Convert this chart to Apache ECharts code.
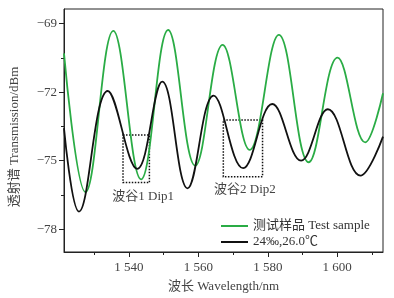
<!DOCTYPE html>
<html>
<head>
<meta charset="utf-8">
<script src="https://cdn.jsdelivr.net/npm/echarts@6/dist/echarts.min.js"></script>
<style>
  html, body { margin: 0; padding: 0; background: #fff; }
  #chart { width: 394px; height: 298px; }
</style>
</head>
<body>
<div id="chart"></div>
<script>
// wavelength (nm) / transmission (dBm)
var sampleWl = [1521.3, 1527.5, 1535.5, 1543.5, 1551.3, 1559.1, 1567.0, 1574.8, 1583.2, 1591.8, 1600.1, 1608.1, 1613.2]
var sampleDb = [-70.3, -76.38, -69.32, -75.82, -69.28, -75.22, -69.93, -74.53, -69.49, -75.07, -70.49, -74.2, -72.05]

var refWl = [1521.3, 1525.6, 1533.9, 1542.4, 1549.6, 1556.9, 1564.4, 1572.9, 1581.3, 1589.6, 1597.3, 1606.7, 1613.2]
var refDb = [-73.58, -77.23, -71.95, -75.36, -71.54, -76.21, -72.15, -75.33, -72.52, -75.0, -72.75, -75.66, -73.95]

var xTicks = [1540, 1560, 1580, 1600]
var xMinorTicks = [1530, 1550, 1570, 1590, 1610]
var yTicks = [-69, -72, -75, -78]
var yMinorTicks = [-70.5, -73.5, -76.5]

// dotted boxes round the two dips: [x0, y0, x1, y1]
var dip1Box = [1538.3, -73.88, 1545.9, -75.96]
var dip2Box = [1567.2, -73.22, 1578.5, -75.70]

var serif = "'Liberation Serif', 'Noto Sans CJK SC', serif"

function pairs(xs, ys) {
  return xs.map(function (x, i) { return [x, ys[i]] })
}

var chart = echarts.init(document.getElementById('chart'))

chart.setOption({
  backgroundColor: '#fff',
  animation: false,
  grid: {
    left: 57, top: 9, right: 11, bottom: 46,
    show: true,
    borderColor: '#222',
    borderWidth: 1
  },
  legend: {
    orient: 'vertical',
    left: 216,
    top: 214,
    icon: 'rect',
    itemWidth: 27,
    itemHeight: 2,
    itemGap: 2,
    textStyle: { fontFamily: serif, fontSize: 13, color: '#333', lineHeight: 14 },
    data: ['测试样品 Test sample', '24‰,26.0℃']
  },
  xAxis: [
    {
      type: 'value',
      min: 1521.3,
      max: 1613.2,
      name: '波长 Wavelength/nm',
      nameLocation: 'middle',
      nameGap: 28,
      nameTextStyle: { fontFamily: serif, fontSize: 13, color: '#444' },
      axisLine: { lineStyle: { color: '#222', width: 1 } },
      splitLine: { show: false },
      axisTick: { customValues: xTicks, length: 5, lineStyle: { color: '#222' } },
      axisLabel: {
        customValues: xTicks,
        fontFamily: serif,
        fontSize: 13,
        color: '#444',
        margin: 9,
        formatter: function (v) { var s = String(v); return s.charAt(0) + ' ' + s.slice(1) }
      }
    },
    {
      type: 'value',
      position: 'bottom',
      min: 1521.3,
      max: 1613.2,
      axisLine: { show: false },
      splitLine: { show: false },
      axisLabel: { show: false },
      axisTick: { customValues: xMinorTicks, length: 3, lineStyle: { color: '#222' } }
    }
  ],
  yAxis: [
    {
      type: 'value',
      min: -79,
      max: -68.36,
      name: '透射谱 Transmission/dBm',
      nameLocation: 'middle',
      nameGap: 43,
      nameTextStyle: { fontFamily: serif, fontSize: 13, color: '#444', padding: [0, 13, 0, 0] },
      axisLine: { show: true, lineStyle: { color: '#222', width: 1 } },
      splitLine: { show: false },
      axisTick: { show: true, customValues: yTicks, length: 5, lineStyle: { color: '#222' } },
      axisLabel: {
        customValues: yTicks,
        fontFamily: serif,
        fontSize: 13,
        color: '#444',
        margin: 7,
        formatter: function (v) { return String(v).replace('-', '\u2212') }
      }
    },
    {
      type: 'value',
      position: 'left',
      min: -79,
      max: -68.36,
      axisLine: { show: false },
      splitLine: { show: false },
      axisLabel: { show: false },
      axisTick: { show: true, customValues: yMinorTicks, length: 3, lineStyle: { color: '#222' } }
    }
  ],
  series: [
    {
      name: '测试样品 Test sample',
      type: 'line',
      smooth: 0.4,
      symbol: 'none',
      data: pairs(sampleWl, sampleDb),
      lineStyle: { color: '#2aac45', width: 1.8 },
      itemStyle: { color: '#2aac45' }
    },
    {
      name: '24‰,26.0℃',
      type: 'line',
      smooth: 0.4,
      symbol: 'none',
      data: pairs(refWl, refDb),
      lineStyle: { color: '#111', width: 1.8 },
      itemStyle: { color: '#111' },
      markArea: {
        silent: true,
        itemStyle: {
          color: 'rgba(0,0,0,0)',
          borderColor: '#111',
          borderWidth: 1.5,
          borderType: 'dotted'
        },
        label: {
          show: true,
          position: 'bottom',
          fontFamily: serif,
          fontSize: 13,
          color: '#444'
        },
        data: [
          [
            { coord: [dip1Box[0], dip1Box[1]], name: '波谷1 Dip1', label: { distance: 7, offset: [7, 0] } },
            { coord: [dip1Box[2], dip1Box[3]] }
          ],
          [
            { coord: [dip2Box[0], dip2Box[1]], name: '波谷2 Dip2', label: { distance: 6, offset: [2, 0] } },
            { coord: [dip2Box[2], dip2Box[3]] }
          ]
        ]
      }
    }
  ]
})
</script>
</body>
</html>
